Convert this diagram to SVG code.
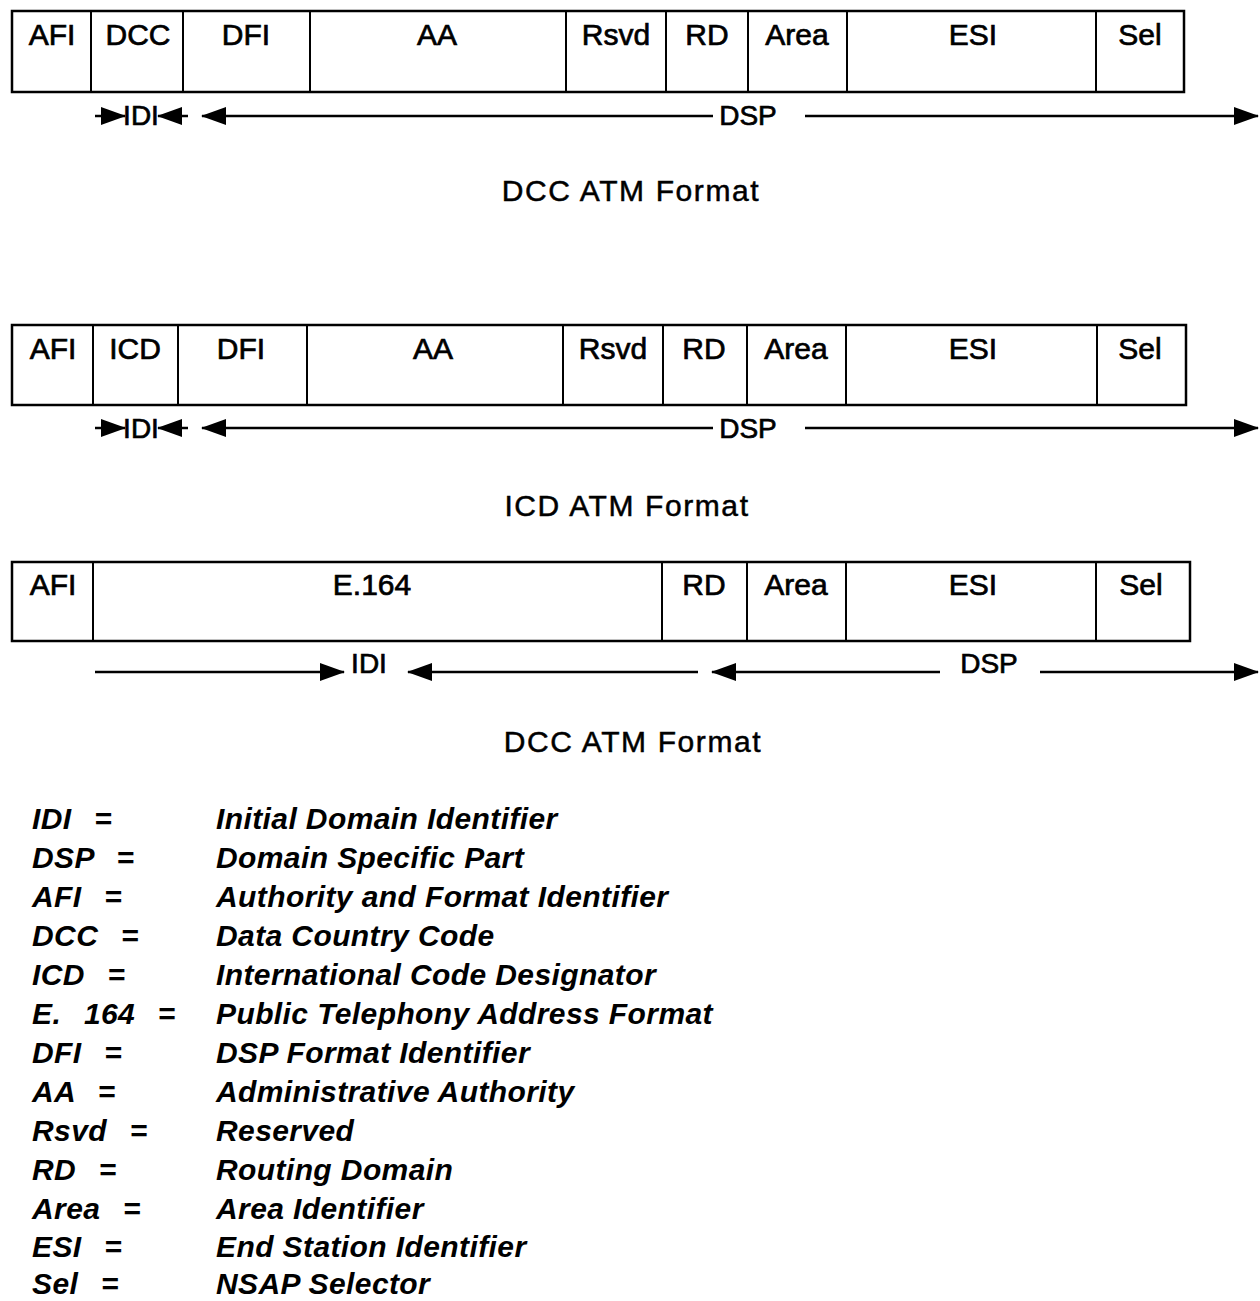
<svg xmlns="http://www.w3.org/2000/svg" width="1260" height="1301" viewBox="0 0 1260 1301">
<style>
.box{fill:#fff;stroke:#000;stroke-width:2.5}
.div{stroke:#000;stroke-width:2}
.lbl{font-family:"Liberation Sans",Arial,sans-serif;font-size:30px;fill:#000;stroke:#000;stroke-width:0.7;text-anchor:middle}
.ttl{font-family:"Liberation Sans",Arial,sans-serif;font-size:30px;fill:#000;stroke:#000;stroke-width:0.5;text-anchor:middle;letter-spacing:1.6px}
.ar{stroke:#000;stroke-width:2.5;fill:none}
.leg{font-family:"Liberation Sans",Arial,sans-serif;font-size:30px;font-weight:bold;font-style:italic;fill:#000;letter-spacing:0.4px}
.lk{word-spacing:14px}
</style>
<defs>
<marker id="ah" markerUnits="userSpaceOnUse" markerWidth="26" markerHeight="20" refX="24" refY="10" orient="auto">
<path d="M0,1 L25,10 L0,19 Z" fill="#000"/>
</marker>
</defs>

<g id="dcc-format">
<rect class="box" x="12" y="11" width="1172" height="81"/>
<g class="div">
<line x1="91" y1="11" x2="91" y2="92"/><line x1="183" y1="11" x2="183" y2="92"/><line x1="310" y1="11" x2="310" y2="92"/><line x1="566" y1="11" x2="566" y2="92"/><line x1="666" y1="11" x2="666" y2="92"/><line x1="748" y1="11" x2="748" y2="92"/><line x1="847" y1="11" x2="847" y2="92"/><line x1="1096" y1="11" x2="1096" y2="92"/>
</g>
<text class="lbl" x="52" y="45">AFI</text><text class="lbl" x="138" y="45">DCC</text><text class="lbl" x="246" y="45">DFI</text><text class="lbl" x="437" y="45">AA</text><text class="lbl" x="616" y="45">Rsvd</text><text class="lbl" x="707" y="45">RD</text><text class="lbl" x="797" y="45">Area</text><text class="lbl" x="973" y="45">ESI</text><text class="lbl" x="1140" y="45">Sel</text>
<text class="lbl" x="141" y="125" style="font-size:28px">IDI</text>
<text class="lbl" x="748" y="125" style="font-size:28px">DSP</text>
<text class="ttl" x="631" y="201">DCC ATM Format</text>
</g>

<g id="icd-format">
<rect class="box" x="12" y="325" width="1174" height="80"/>
<g class="div">
<line x1="93" y1="325" x2="93" y2="405"/><line x1="178" y1="325" x2="178" y2="405"/><line x1="307" y1="325" x2="307" y2="405"/><line x1="563" y1="325" x2="563" y2="405"/><line x1="663" y1="325" x2="663" y2="405"/><line x1="747" y1="325" x2="747" y2="405"/><line x1="846" y1="325" x2="846" y2="405"/><line x1="1097" y1="325" x2="1097" y2="405"/>
</g>
<text class="lbl" x="53" y="359">AFI</text><text class="lbl" x="135" y="359">ICD</text><text class="lbl" x="241" y="359">DFI</text><text class="lbl" x="433" y="359">AA</text><text class="lbl" x="613" y="359">Rsvd</text><text class="lbl" x="704" y="359">RD</text><text class="lbl" x="796" y="359">Area</text><text class="lbl" x="973" y="359">ESI</text><text class="lbl" x="1140" y="359">Sel</text>
<text class="lbl" x="141" y="438" style="font-size:28px">IDI</text>
<text class="lbl" x="748" y="438" style="font-size:28px">DSP</text>
<text class="ttl" x="627" y="516">ICD ATM Format</text>
</g>

<g id="e164-format">
<rect class="box" x="12" y="562" width="1178" height="79"/>
<g class="div">
<line x1="93" y1="562" x2="93" y2="641"/><line x1="662" y1="562" x2="662" y2="641"/><line x1="747" y1="562" x2="747" y2="641"/><line x1="846" y1="562" x2="846" y2="641"/><line x1="1096" y1="562" x2="1096" y2="641"/>
</g>
<text class="lbl" x="53" y="595">AFI</text><text class="lbl" x="372" y="595">E.164</text><text class="lbl" x="704" y="595">RD</text><text class="lbl" x="796" y="595">Area</text><text class="lbl" x="973" y="595">ESI</text><text class="lbl" x="1141" y="595">Sel</text>
<text class="lbl" x="369" y="673" style="font-size:28px">IDI</text>
<text class="lbl" x="989" y="673" style="font-size:28px">DSP</text>
<text class="ttl" x="633" y="752">DCC ATM Format</text>
</g>

<g id="connectors">
<line class="ar" x1="95" y1="116" x2="125" y2="116" marker-end="url(#ah)"/>
<line class="ar" x1="188" y1="116" x2="158" y2="116" marker-end="url(#ah)"/>
<line class="ar" x1="713" y1="116" x2="202" y2="116" marker-end="url(#ah)"/>
<line class="ar" x1="805" y1="116" x2="1258" y2="116" marker-end="url(#ah)"/>

<line class="ar" x1="95" y1="428" x2="125" y2="428" marker-end="url(#ah)"/>
<line class="ar" x1="188" y1="428" x2="158" y2="428" marker-end="url(#ah)"/>
<line class="ar" x1="713" y1="428" x2="202" y2="428" marker-end="url(#ah)"/>
<line class="ar" x1="805" y1="428" x2="1258" y2="428" marker-end="url(#ah)"/>

<line class="ar" x1="95" y1="672" x2="344" y2="672" marker-end="url(#ah)"/>
<line class="ar" x1="698" y1="672" x2="408" y2="672" marker-end="url(#ah)"/>
<line class="ar" x1="940" y1="672" x2="712" y2="672" marker-end="url(#ah)"/>
<line class="ar" x1="1040" y1="672" x2="1258" y2="672" marker-end="url(#ah)"/>
</g>

<g id="legend">
<text class="leg lk" x="32" y="829">IDI =</text><text class="leg" x="216" y="829">Initial Domain Identifier</text>
<text class="leg lk" x="32" y="868">DSP =</text><text class="leg" x="216" y="868">Domain Specific Part</text>
<text class="leg lk" x="32" y="907">AFI =</text><text class="leg" x="216" y="907">Authority and Format Identifier</text>
<text class="leg lk" x="32" y="946">DCC =</text><text class="leg" x="216" y="946">Data Country Code</text>
<text class="leg lk" x="32" y="985">ICD =</text><text class="leg" x="216" y="985">International Code Designator</text>
<text class="leg lk" x="32" y="1024">E. 164 =</text><text class="leg" x="216" y="1024">Public Telephony Address Format</text>
<text class="leg lk" x="32" y="1063">DFI =</text><text class="leg" x="216" y="1063">DSP Format Identifier</text>
<text class="leg lk" x="32" y="1102">AA =</text><text class="leg" x="216" y="1102">Administrative Authority</text>
<text class="leg lk" x="32" y="1141">Rsvd =</text><text class="leg" x="216" y="1141">Reserved</text>
<text class="leg lk" x="32" y="1180">RD =</text><text class="leg" x="216" y="1180">Routing Domain</text>
<text class="leg lk" x="32" y="1219">Area =</text><text class="leg" x="216" y="1219">Area Identifier</text>
<text class="leg lk" x="32" y="1257">ESI =</text><text class="leg" x="216" y="1257">End Station Identifier</text>
<text class="leg lk" x="32" y="1294">Sel =</text><text class="leg" x="216" y="1294">NSAP Selector</text>
</g>
</svg>
